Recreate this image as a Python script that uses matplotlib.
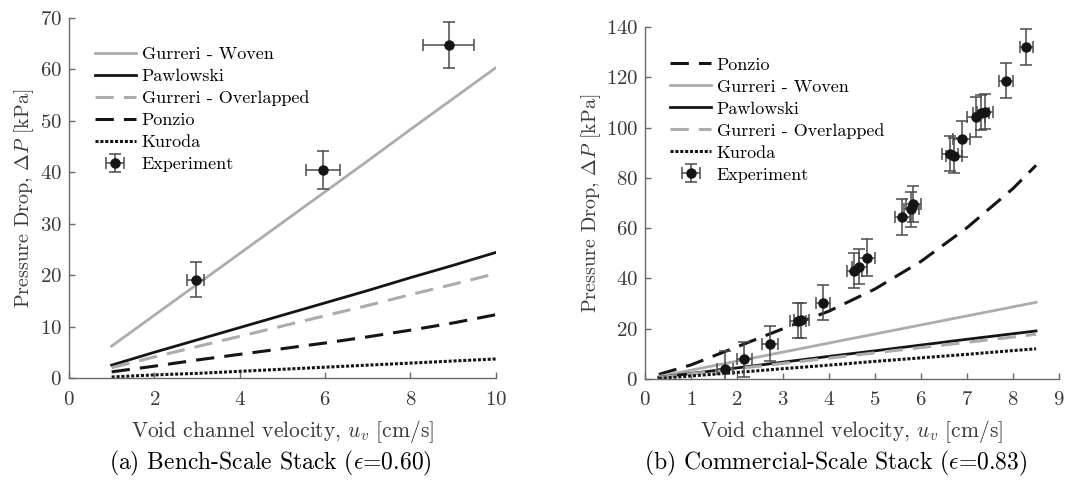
import numpy as np
import matplotlib
matplotlib.use("Agg")
import matplotlib.pyplot as plt

plt.rcParams['font.family'] = 'serif'
plt.rcParams['font.serif'] = ['cmr10']
plt.rcParams['mathtext.fontset'] = 'cm'
plt.rcParams['axes.formatter.use_mathtext'] = True

# (a) bench-scale stack, eps = 0.60
u_a = [1, 2, 3, 4, 5, 6, 7, 8, 9, 10]
woven_a = [6.2, 12.2, 18.2, 24.2, 30.2, 36.2, 42.2, 48.3, 54.3, 60.3]
pawlowski_a = [2.5, 5.0, 7.4, 9.8, 12.2, 14.6, 17.0, 19.5, 21.9, 24.4]
overlapped_a = [2.0, 4.1, 6.1, 8.1, 10.1, 12.1, 14.1, 16.2, 18.2, 20.3]
ponzio_a = [1.2, 2.3, 3.5, 4.6, 5.7, 6.8, 8.0, 9.3, 10.7, 12.3]
kuroda_a = [0.2, 0.6, 0.9, 1.3, 1.7, 2.1, 2.5, 2.9, 3.3, 3.7]

exp_u_a = [2.97, 5.95, 8.90]
exp_dp_a = [19.1, 40.5, 64.7]
exp_uerr_a = [0.2, 0.4, 0.6]
exp_dperr_a = [3.4, 3.7, 4.5]

# (b) commercial-scale stack, eps = 0.83
u_b = [0.3, 1, 2, 3, 4, 5, 6, 7, 8, 8.5]
ponzio_b = [1.8, 5.6, 12.8, 20.0, 27.0, 35.8, 46.8, 60.2, 75.8, 85.0]
woven_b = [1.0, 3.5, 7.1, 10.7, 14.3, 17.9, 21.5, 25.1, 28.7, 30.5]
pawlowski_b = [0.6, 2.2, 4.4, 6.7, 9.0, 11.2, 13.5, 15.8, 18.0, 19.1]
overlapped_b = [0.5, 2.0, 4.1, 6.2, 8.3, 10.4, 12.5, 14.6, 16.7, 17.8]
kuroda_b = [0.2, 1.2, 2.6, 4.1, 5.5, 7.0, 8.4, 9.8, 11.3, 12.0]

exp_u_b = [1.74, 2.16, 2.72, 3.33, 3.40, 3.87, 4.55, 4.66, 4.83, 5.59,
           5.79, 5.83, 6.63, 6.72, 6.88, 7.19, 7.30, 7.39, 7.84, 8.29]
exp_dp_b = [4.0, 7.9, 14.0, 23.2, 23.4, 30.4, 43.0, 44.7, 48.3, 64.3,
            67.5, 69.6, 89.7, 88.9, 95.5, 104.3, 106.0, 106.3, 118.6, 132.1]
exp_uerr_b = [0.18, 0.17, 0.17, 0.17, 0.17, 0.16, 0.16, 0.16, 0.17, 0.16,
              0.16, 0.16, 0.18, 0.18, 0.18, 0.2, 0.18, 0.18, 0.15, 0.15]
exp_dperr_b = [7.0, 7.0, 7.0, 7.0, 7.0, 7.0, 7.0, 7.0, 7.2, 7.2,
               7.0, 7.2, 7.0, 7.0, 7.0, 8.0, 7.0, 7.0, 7.0, 7.0]

GRAY = '#acacac'
BLACK = '#151515'
AXC = '#6a6a6a'
TXT = '#3a3a3a'
DASH = (6, 3.3)
DOT = (1, 0.6)


def style_axes(ax, ylab_x):
    for s in ['top', 'right']:
        ax.spines[s].set_visible(False)
    for s in ['left', 'bottom']:
        ax.spines[s].set_color(AXC)
        ax.spines[s].set_linewidth(1.0)
    ax.tick_params(direction='in', length=4, width=1, color=AXC,
                   labelcolor=TXT, labelsize=15)
    ax.tick_params(axis='x', pad=9)
    ax.tick_params(axis='y', pad=5)
    ax.set_xlabel(r'Void channel velocity, $u_v$ [cm/s]', fontsize=15.5,
                  color=TXT)
    ax.set_ylabel(r'Pressure Drop, $\Delta P$ [kPa]', fontsize=14.5,
                  color=TXT, va='center')
    ax.xaxis.set_label_coords(0.5, -0.112)
    ax.yaxis.set_label_coords(ylab_x, 0.5)


def draw_experiment(ax, u, dp, uerr, dperr):
    ax.errorbar(u, dp, xerr=uerr, yerr=dperr, fmt='o', color=BLACK,
                markersize=6.5, ecolor='#4a4a4a', elinewidth=1.1,
                capsize=4.5, capthick=1.1, label='Experiment', zorder=5)


def add_legend(ax, anchor):
    ax.legend(loc='upper left', bbox_to_anchor=anchor, frameon=False,
              fontsize=13, handlelength=2.3, handletextpad=0.3,
              labelspacing=0.35, borderaxespad=0, borderpad=0)


fig = plt.figure(figsize=(10.83, 4.84), dpi=100)
ax1 = fig.add_axes([0.0637, 0.219, 0.394, 0.744])
ax2 = fig.add_axes([0.5956, 0.217, 0.3823, 0.727])

# bench-scale
ax1.plot(u_a, woven_a, color=GRAY, lw=2.0, label='Gurreri - Woven')
ax1.plot(u_a, pawlowski_a, color=BLACK, lw=2.0, label='Pawlowski')
ax1.plot(u_a, overlapped_a, color=GRAY, lw=2.2, dashes=DASH,
         label='Gurreri - Overlapped')
ax1.plot(u_a, ponzio_a, color=BLACK, lw=2.2, dashes=DASH, label='Ponzio')
ax1.plot(u_a, kuroda_a, color=BLACK, lw=2.2, dashes=DOT, label='Kuroda')
draw_experiment(ax1, exp_u_a, exp_dp_a, exp_uerr_a, exp_dperr_a)
ax1.set_xlim(0, 10)
ax1.set_ylim(0, 70)
ax1.set_xticks(np.arange(0, 11, 2))
ax1.set_yticks(np.arange(0, 71, 10))
style_axes(ax1, -0.105)
add_legend(ax1, (0.06, 0.92))

# commercial-scale
ax2.plot(u_b, ponzio_b, color=BLACK, lw=2.2, dashes=DASH, label='Ponzio')
ax2.plot(u_b, woven_b, color=GRAY, lw=2.0, label='Gurreri - Woven')
ax2.plot(u_b, pawlowski_b, color=BLACK, lw=2.0, label='Pawlowski')
ax2.plot(u_b, overlapped_b, color=GRAY, lw=2.2, dashes=DASH,
         label='Gurreri - Overlapped')
ax2.plot(u_b, kuroda_b, color=BLACK, lw=2.2, dashes=DOT, label='Kuroda')
draw_experiment(ax2, exp_u_b, exp_dp_b, exp_uerr_b, exp_dperr_b)
ax2.set_xlim(0, 9)
ax2.set_ylim(0, 140)
ax2.set_xticks(np.arange(0, 10, 1))
ax2.set_yticks(np.arange(0, 141, 20))
style_axes(ax2, -0.13)
add_legend(ax2, (0.06, 0.915))

fig.text(0.25, 0.042, r'(a) Bench-Scale Stack ($\epsilon$=0.60)',
         ha='center', va='center', fontsize=17)
fig.text(0.772, 0.042, r'(b) Commercial-Scale Stack ($\epsilon$=0.83)',
         ha='center', va='center', fontsize=17)

fig.savefig('out.png', dpi=100)
